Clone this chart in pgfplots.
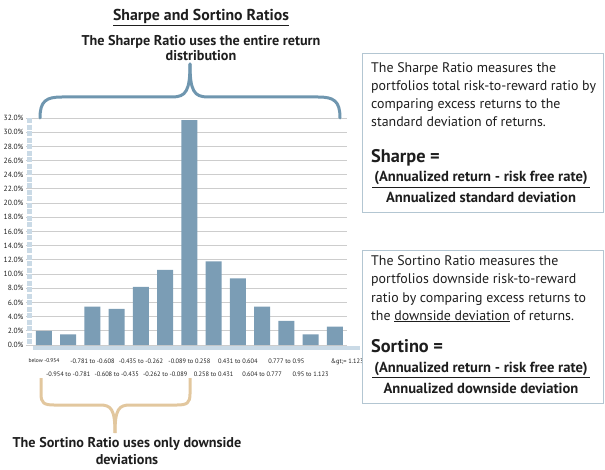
\documentclass[border=0pt]{standalone}
\usepackage{pgfplots}
\pgfplotsset{compat=1.18}
\usepackage{fontspec}
\setmainfont{PT Sans}
\definecolor{barblue}{HTML}{7B9DB5}
\definecolor{braceblue}{HTML}{6F96AF}
\definecolor{bracetan}{HTML}{E2C79E}
\definecolor{boxc}{HTML}{B3C6D2}
\definecolor{gridgray}{HTML}{CDCDCD}
\definecolor{segblue}{HTML}{CADAE6}
\definecolor{txt}{HTML}{1E1E1E}
\begin{document}
\begin{tikzpicture}[x=1pt,y=1pt]
\path[use as bounding box] (0,0) rectangle (605,469);
\begin{axis}[
  at={(44pt,124pt)}, anchor=origin, scale only axis,
  width=317pt, height=227pt,
  xmin=-0.58, xmax=12.5, ymin=0, ymax=32,
  clip=false,
  axis x line*=bottom, axis y line*=left,
  axis line style={draw=none},
  ytick={0,2,...,32},
  ymajorgrids, grid style={color=gridgray, line width=0.9pt},
  /pgf/number format/assume math mode=true,
  yticklabel={\pgfmathprintnumber[fixed,fixed zerofill,precision=1]{\tick}\%},
  y tick label style={font=\fontsize{7.5}{8}\selectfont, color=txt, xshift=1pt},
  ytick style={color=gridgray, line width=0.9pt},
  major tick length=4pt, tick align=outside,
  xtick={0,2,4,6,8,10,12},
  xticklabels={{\fontsize{5.5}{6}\selectfont below -0.954}, -0.781 to -0.608, -0.435 to -0.262, -0.089 to 0.258, 0.431 to 0.604, 0.777 to 0.95, \hspace*{25pt}\&gt;= 1.123},
  extra x ticks={1,3,5,7,9,11},
  extra x tick labels={-0.954 to -0.781, -0.608 to -0.435, -0.262 to -0.089, 0.258 to 0.431, 0.604 to 0.777, 0.95 to 1.123},
  xtick style={draw=none},
  x tick label style={font=\fontsize{6.4}{7}\selectfont, color=txt, yshift=-6pt},
  extra x tick style={tick label style={yshift=-13pt}},
]
\addplot[ybar, bar width=16pt, fill=barblue, draw=none] coordinates {
 (0,2.0) (1,1.5) (2,5.4) (3,5.1) (4,8.2) (5,10.6) (6,31.7) (7,11.8) (8,9.4) (9,5.4) (10,3.4) (11,1.5) (12,2.6)};
\pgfplotsinvokeforeach{0,...,12}{
  \draw[segblue, line width=4pt] (axis cs:#1,0) ++(-11pt,-3pt) -- ++(22pt,0);
}
\draw[segblue, line width=5pt, dash pattern=on 5pt off 1.5pt] (axis cs:-0.58,32) -- (axis cs:-0.58,0);
\end{axis}

% top brace
\draw[braceblue, line width=3pt, line cap=round] (40,351) .. controls (40,368) and (46,372) .. (62,372) -- (172,372) .. controls (186,372) and (190,378) .. (190,405);
\draw[braceblue, line width=3pt, line cap=round] (340,351) .. controls (340,368) and (334,372) .. (318,372) -- (208,372) .. controls (194,372) and (190,378) .. (190,405);
% bottom brace
\draw[bracetan, line width=3pt] (41,91) -- (41,75) .. controls (41,66) and (44,64) .. (54,64) -- (100,64) .. controls (111,64) and (115,60) .. (115,36);
\draw[bracetan, line width=3pt] (190,91) -- (190,75) .. controls (190,66) and (187,64) .. (177,64) -- (130,64) .. controls (119,64) and (115,60) .. (115,36);

% titles
\node[anchor=base, inner sep=0, text=txt, font=\bfseries\fontsize{15.8}{17}\selectfont] at (201,448) {\underline{Sharpe and Sortino Ratios}};
\node[anchor=base, inner sep=0, text=txt, font=\bfseries\fontsize{14.2}{16}\selectfont] at (201,423) {The Sharpe Ratio uses the entire return};
\node[anchor=base, inner sep=0, text=txt, font=\bfseries\fontsize{14.2}{16}\selectfont] at (201,408) {distribution};
\node[anchor=base, inner sep=0, text=txt, font=\bfseries\fontsize{14.2}{16}\selectfont] at (127,22) {The Sortino Ratio uses only downside};
\node[anchor=base, inner sep=0, text=txt, font=\bfseries\fontsize{14.2}{16}\selectfont] at (127,5) {deviations};

% box 1
\draw[boxc, line width=1pt] (362,415) rectangle (603,256);
\begin{scope}[every node/.style={anchor=base west, inner sep=0, text=txt, font=\fontsize{13.9}{16}\selectfont}]
\node at (371,396) {The Sharpe Ratio measures the};
\node at (371,378) {portfolios total risk-to-reward ratio by};
\node at (371,360) {comparing excess returns to the};
\node at (371,342) {standard deviation of returns.};
\node[font=\bfseries\fontsize{18.3}{20}\selectfont] at (371,306) {Sharpe =};
\end{scope}
\node[anchor=base, inner sep=0, text=txt, font=\bfseries\fontsize{14.6}{16}\selectfont] at (481,287) {(Annualized return - risk free rate)};
\draw[txt, line width=0.7pt] (372,282) -- (590,282);
\node[anchor=base, inner sep=0, text=txt, font=\bfseries\fontsize{14.6}{16}\selectfont] at (481,266) {Annualized standard deviation};

% box 2
\draw[boxc, line width=1pt] (362,218) rectangle (603,66);
\begin{scope}[every node/.style={anchor=base west, inner sep=0, text=txt, font=\fontsize{13.9}{16}\selectfont}]
\node at (371,203) {The Sortino Ratio measures the};
\node at (371,185) {portfolios downside risk-to-reward};
\node at (371,167) {ratio by comparing excess returns to};
\node at (371,149) {the \underline{downside deviation} of returns.};
\node[font=\bfseries\fontsize{18.3}{20}\selectfont] at (371,117) {Sortino =};
\end{scope}
\node[anchor=base, inner sep=0, text=txt, font=\bfseries\fontsize{14.6}{16}\selectfont] at (481,97) {(Annualized return - risk free rate)};
\draw[txt, line width=0.7pt] (372,92) -- (590,92);
\node[anchor=base, inner sep=0, text=txt, font=\bfseries\fontsize{14.6}{16}\selectfont] at (481,76) {Annualized downside deviation};
\end{tikzpicture}
\end{document}
